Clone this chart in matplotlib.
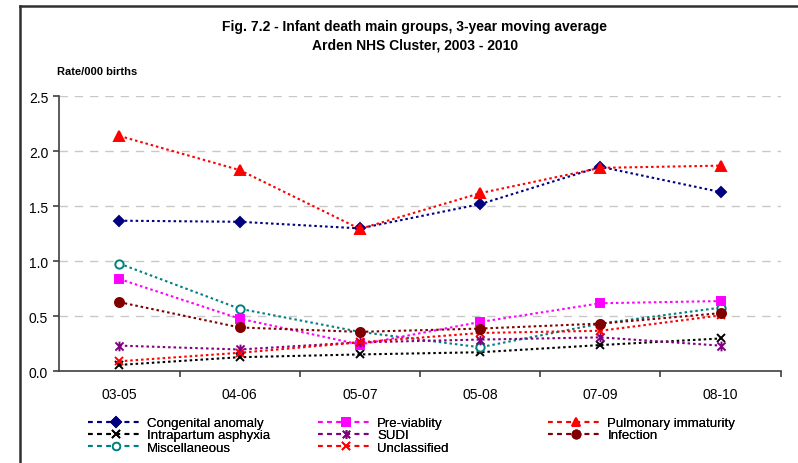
import matplotlib
matplotlib.use('Agg')
import matplotlib.pyplot as plt
from matplotlib.lines import Line2D
from matplotlib.path import Path

plt.rcParams['font.family'] = ['Liberation Sans', 'DejaVu Sans']

periods = ['03-05', '04-06', '05-07', '05-08', '07-09', '08-10']

congenital = [1.37, 1.36, 1.30, 1.52, 1.86, 1.63]
pre_viability = [0.84, 0.48, 0.245, 0.45, 0.62, 0.64]
pulmonary = [2.14, 1.83, 1.295, 1.62, 1.85, 1.87]
intrapartum = [0.06, 0.13, 0.155, 0.175, 0.24, 0.30]
sudi = [0.235, 0.20, 0.265, 0.29, 0.31, 0.235]
infection = [0.63, 0.40, 0.36, 0.39, 0.435, 0.53]
miscellaneous = [0.98, 0.57, 0.36, 0.22, 0.435, 0.58]
unclassified = [0.093, 0.17, 0.265, 0.35, 0.37, 0.51]

# Excel style "star": X with a vertical bar
star = Path([(-1, -1), (1, 1), (-1, 1), (1, -1), (0, -1.2), (0, 1.2)],
            [Path.MOVETO, Path.LINETO, Path.MOVETO, Path.LINETO, Path.MOVETO, Path.LINETO])

series = [
    ('Congenital anomaly', congenital, '#000080', 'D', '#000080', 5.2),
    ('Intrapartum asphyxia', intrapartum, '#000000', 'x', '#000000', 6),
    ('Miscellaneous', miscellaneous, '#008080', 'o', 'white', 6),
    ('Pre-viablity', pre_viability, '#FF00FF', 's', '#FF00FF', 6.2),
    ('SUDI', sudi, '#800080', star, '#800080', 7),
    ('Unclassified', unclassified, '#FF0000', 'x', '#FF0000', 6),
    ('Pulmonary immaturity', pulmonary, '#FF0000', '^', '#FF0000', 7),
    ('Infection', infection, '#800000', 'o', '#800000', 6.5),
]

fig = plt.figure(figsize=(7.98, 4.64), dpi=100)
ax = fig.add_axes([0.0743, 0.1972, 0.904, 0.5931])

x = list(range(len(periods)))
handles = []
for label, vals, color, marker, face, ms in series:
    ax.plot(x, vals, linestyle=(0, (1.2, 1.4)), linewidth=1.5, color=color,
            marker=marker, markersize=ms, markerfacecolor=face,
            markeredgecolor=color, markeredgewidth=1.4)
    # legend proxy with longer dashes, like the Excel legend keys
    handles.append(Line2D([], [], linestyle=(0, (2.2, 2.2)), linewidth=1.5, color=color,
                          marker=marker, markersize=ms * 0.9, markerfacecolor=face,
                          markeredgecolor=color, markeredgewidth=1.3, label=label))

ax.set_xlim(-0.5, 5.5)
ax.set_ylim(0, 2.5)
ax.set_yticks([0, 0.5, 1.0, 1.5, 2.0, 2.5])
ax.set_yticklabels(['0.0', '0.5', '1.0', '1.5', '2.0', '2.5'], fontsize=10)
ax.set_xticks(x)
ax.set_xticklabels(periods, fontsize=10)
ax.set_xticks([i + 0.5 for i in range(len(periods))], minor=True)
ax.tick_params(axis='x', which='major', length=0, pad=11)
ax.tick_params(axis='x', which='minor', length=4, width=1.2, color='#404040', direction='out')
ax.tick_params(axis='y', length=4, width=1.2, color='#404040', pad=4)

for yv in [0.5, 1.0, 1.5, 2.0, 2.5]:
    ax.axhline(yv, color='#c8c8c8', linewidth=1, linestyle=(0, (6, 5)), zorder=0)

for side in ['top', 'right']:
    ax.spines[side].set_visible(False)
for side in ['left', 'bottom']:
    ax.spines[side].set_color('#404040')
    ax.spines[side].set_linewidth(1.2)

fig.text(0.52, 1 - 27 / 464, 'Fig. 7.2 - Infant death main groups, 3-year moving average',
         ha='center', va='center', fontsize=10, fontweight='bold')
fig.text(0.52, 1 - 45 / 464, 'Arden NHS Cluster, 2003 - 2010',
         ha='center', va='center', fontsize=10, fontweight='bold')
fig.text(57 / 798, 1 - 72 / 464, 'Rate/000 births', ha='left', va='center',
         fontsize=8, fontweight='bold')

# outer chart frame (left and top edges visible)
fig.add_artist(Line2D([20 / 798, 20 / 798], [0, 1 - 7 / 464], color='#303030', linewidth=1.8))
fig.add_artist(Line2D([20 / 798, 1], [1 - 7 / 464, 1 - 7 / 464], color='#303030', linewidth=1.8))

# legend in three columns, one legend per column
col_x = [88 / 798, 318 / 798, 548 / 798]
groups = [handles[0:3], handles[3:6], handles[6:8]]
for cx, grp in zip(col_x, groups):
    leg = fig.legend(handles=grp, loc='upper left', bbox_to_anchor=(cx, 1 - 418 / 464),
                     frameon=False, fontsize=9.5, labelspacing=0.0, handlelength=4.2,
                     handletextpad=0.3, borderpad=0, borderaxespad=0, numpoints=1)
    fig.add_artist(leg)

fig.savefig('out.png', dpi=100)
